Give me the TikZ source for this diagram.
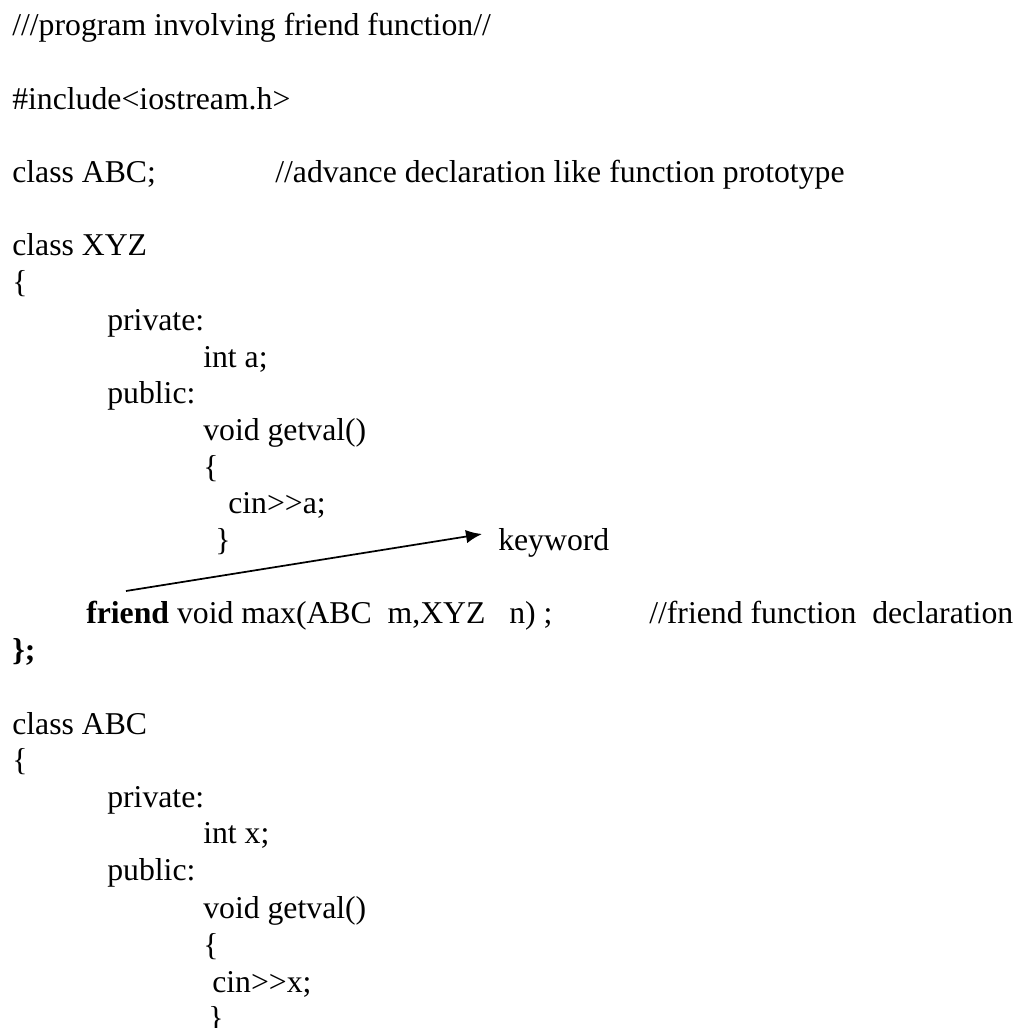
\documentclass[tikz,border=0pt]{standalone}
\usepackage{fontspec}
\setmainfont{Liberation Serif}
\usetikzlibrary{arrows.meta,positioning}
\tikzset{code/.style={
            anchor=base west,
            inner sep=0pt,
            font=\fontsize{23.8pt}{28pt}\selectfont
        },
        pointer/.style={
            -{Latex[length=12pt,width=10pt]},
            line width=1.3pt
        }
    }

\begin{document}
\begin{tikzpicture}[x=0.75pt,y=-0.75pt]
        \useasboundingbox (0,0) rectangle (1019,1028);
        % header lines
        \node[code] (title) at (12,36) {///program involving friend function//};
        \node[code] (incl) at (12,109) {\#include<iostream.h>};
        \node[code] (fwd) at (12,182) {class ABC;};
        \node[code] (fwdnote) at (275,182) {//advance declaration like function prototype};
        % class XYZ
        \node[code] (xyz) at (12,255) {class XYZ};
        \node[code] (xyzopen) at (12,292) {\{};
        \node[code] (xyzpriv) at (107,330) {private:};
        \node[code] (xyza) at (203,367) {int a;};
        \node[code] (xyzpub) at (107,403) {public:};
        \node[code] (xyzget) at (203,440) {void getval()};
        \node[code] (xyzgetopen) at (203,477) {\{};
        \node[code] (xyzcin) at (228,513) {cin>{}>a;};
        \node[code] (xyzgetclose) at (215,550) {\}};
        \node[code] (keyword) at (498,550) {keyword};
        \node[code] (friend) at (86,623) {\textbf{friend} void max(ABC\ \ m,XYZ\ \ \ n)\ ;};
        \node[code] (friendnote) at (649,623) {//friend function\ \ declaration};
        \node[code] (xyzclose) at (12,660) {\textbf{\};}};
        % class ABC
        \node[code] (abc) at (12,734) {class ABC};
        \node[code] (abcopen) at (12,770) {\{};
        \node[code] (abcpriv) at (107,807) {private:};
        \node[code] (abcx) at (203,843) {int x;};
        \node[code] (abcpub) at (107,880) {public:};
        \node[code] (abcget) at (203,918) {void getval()};
        \node[code] (abcgetopen) at (203,955) {\{};
        \node[code] (abccin) at (212,992) {cin>{}>x;};
        \node[code] (abcgetclose) at (208,1028) {\}};
        % keyword pointer
        \coordinate (friendmark) at (126,591);
        \coordinate (kwtip) at (482,534);
        \draw[pointer] (friendmark) -- (kwtip);
    \end{tikzpicture}
\end{document}
